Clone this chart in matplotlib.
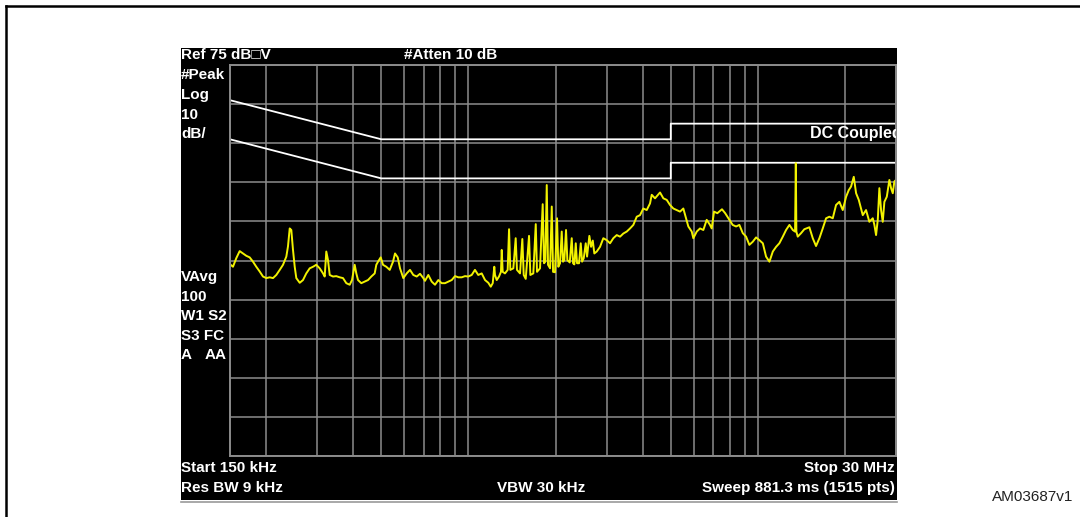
import matplotlib
matplotlib.use('Agg')
import matplotlib.pyplot as plt
from matplotlib.patches import Rectangle
from matplotlib.lines import Line2D
from matplotlib.ticker import FixedLocator, NullLocator

# measured trace, frequency in MHz / level in dBuV
freq_mhz = [
    0.1508, 0.1536, 0.1577, 0.1620, 0.1664, 0.1708, 0.1754, 0.1801, 0.1849, 0.1899,
    0.1950, 0.2002, 0.2057, 0.2112, 0.2168, 0.2228, 0.2287, 0.2348, 0.2379, 0.2412,
    0.2443, 0.2476, 0.2510, 0.2542, 0.2612, 0.2681, 0.2752, 0.2828, 0.2903, 0.2980,
    0.3062, 0.3144, 0.3186, 0.3227, 0.3271, 0.3316, 0.3404, 0.3494, 0.3590, 0.3686,
    0.3784, 0.3888, 0.3959, 0.4045, 0.4097, 0.4153, 0.4263, 0.4380, 0.4497, 0.4617,
    0.4743, 0.4804, 0.4870, 0.4975, 0.5067, 0.5202, 0.5345, 0.5487, 0.5575, 0.5696,
    0.5801, 0.5955, 0.6118, 0.6281, 0.6448, 0.6625, 0.6802, 0.6982, 0.7077, 0.7265,
    0.7465, 0.7663, 0.7867, 0.8083, 0.8298, 0.8518, 0.8752, 0.8985, 0.9224, 0.9477,
    0.9729, 0.9987, 1.026, 1.053, 1.081, 1.111, 1.141, 1.171, 1.194, 1.213,
    1.228, 1.235, 1.252, 1.275, 1.295, 1.303, 1.313, 1.337, 1.366, 1.381,
    1.395, 1.429, 1.456, 1.471, 1.507, 1.535, 1.552, 1.577, 1.619, 1.636,
    1.675, 1.708, 1.725, 1.767, 1.805, 1.824, 1.843, 1.864, 1.883, 1.914,
    1.940, 1.960, 1.991, 2.023, 2.044, 2.072, 2.100, 2.122, 2.144, 2.173,
    2.196, 2.238, 2.274, 2.298, 2.322, 2.348, 2.372, 2.410, 2.443, 2.469,
    2.502, 2.542, 2.569, 2.616, 2.652, 2.688, 2.722, 2.775, 2.848, 2.924,
    3.004, 3.084, 3.166, 3.253, 3.340, 3.428, 3.522, 3.616, 3.712, 3.814,
    3.915, 4.019, 4.129, 4.239, 4.297, 4.411, 4.590, 4.713, 4.842, 4.970,
    5.103, 5.243, 5.382, 5.525, 5.645, 5.749, 5.907, 5.983, 6.147, 6.310,
    6.478, 6.655, 6.832, 6.925, 7.053, 7.241, 7.514, 7.708, 7.976, 8.180,
    8.406, 8.630, 8.866, 9.102, 9.344, 9.600, 9.856, 10.12, 10.40, 10.67,
    10.96, 11.26, 11.56, 11.86, 12.19, 12.51, 12.85, 13.20, 13.44, 13.52,
    13.58, 13.73, 14.10, 14.47, 15.06, 15.47, 15.88, 16.31, 16.75, 17.20,
    17.66, 18.14, 18.62, 19.12, 19.64, 20.17, 20.60, 20.98, 21.44, 21.84,
    22.31, 22.72, 23.03, 23.64, 24.27, 24.94, 25.26, 25.60, 25.95, 26.28,
    26.64, 27.00, 27.35, 27.88, 28.46, 28.85, 29.24, 29.61, 30.00,
]
level_dbuv = [
    23.9, 23.4, 25.6, 27.4, 26.8, 26.2, 25.8, 24.7, 23.4, 22.2,
    20.9, 20.5, 20.7, 20.5, 21.3, 22.6, 23.9, 26.0, 28.6, 33.2,
    32.8, 27.7, 23.4, 20.5, 19.3, 20.0, 21.7, 23.0, 23.4, 23.9,
    23.0, 21.7, 20.9, 27.3, 25.1, 21.3, 20.9, 21.0, 20.7, 20.5,
    19.2, 18.8, 20.0, 23.9, 21.7, 20.0, 19.2, 19.6, 20.0, 20.9,
    21.7, 23.9, 24.7, 25.8, 23.9, 23.4, 22.6, 24.7, 26.8, 25.8,
    23.0, 20.5, 21.7, 22.6, 21.3, 20.9, 21.6, 20.5, 19.8, 21.3,
    19.6, 18.8, 20.0, 19.2, 19.2, 19.6, 20.0, 21.0, 20.7, 20.7,
    21.0, 20.9, 21.3, 22.6, 21.3, 21.7, 20.0, 19.3, 18.3, 19.2,
    23.4, 21.3, 20.0, 20.9, 22.1, 27.7, 22.1, 21.7, 22.6, 33.0,
    22.6, 23.0, 30.7, 22.6, 21.7, 30.5, 21.3, 20.3, 31.3, 21.3,
    21.7, 34.3, 22.1, 23.0, 39.4, 24.3, 24.7, 44.3, 23.9, 23.0,
    38.8, 22.1, 22.0, 35.8, 23.4, 24.3, 32.4, 24.7, 25.1, 32.8,
    25.1, 24.5, 30.7, 24.3, 24.0, 29.4, 24.3, 24.3, 29.4, 24.7,
    25.6, 29.4, 26.0, 31.3, 28.5, 30.1, 26.8, 27.3, 28.5, 30.7,
    30.2, 29.4, 30.7, 31.5, 31.1, 31.9, 32.4, 33.2, 34.1, 36.2,
    36.6, 38.3, 37.9, 39.6, 41.8, 40.9, 42.4, 40.9, 40.5, 39.2,
    38.3, 37.9, 37.5, 38.3, 35.8, 33.7, 32.4, 30.7, 32.4, 33.2,
    32.8, 35.4, 34.1, 33.2, 37.5, 37.1, 38.1, 37.1, 35.4, 34.1,
    33.7, 34.1, 32.0, 31.1, 29.0, 29.8, 30.9, 30.2, 29.4, 26.0,
    24.7, 27.3, 28.5, 29.4, 31.1, 32.8, 34.1, 32.8, 32.4, 49.9,
    32.4, 31.1, 32.0, 33.0, 33.5, 30.7, 28.7, 30.7, 33.2, 35.8,
    36.2, 35.8, 39.2, 40.0, 37.9, 41.3, 43.0, 43.9, 46.4, 42.2,
    40.5, 38.3, 36.6, 37.9, 34.9, 35.8, 34.1, 31.5, 35.4, 43.5,
    37.9, 34.9, 40.0, 41.3, 45.6, 43.5, 42.2, 45.2, 45.6,
]

# EN55022 class B limit lines
limit_freq = [0.15, 0.5, 5, 5, 30]
qp_limit = [66, 56, 56, 60, 60]
avg_limit = [56, 46, 46, 50, 50]

grid_freqs = [0.2, 0.3, 0.4, 0.5, 0.6, 0.7, 0.8, 0.9, 1, 2, 3, 4, 5, 6, 7, 8, 9, 10, 20]

W, H = 1080, 517
def fx(px):
    return px / W
def fy(py):
    return 1 - py / H

fam = ['Liberation Sans', 'DejaVu Sans']
fig = plt.figure(figsize=(W / 100, H / 100), dpi=100)
fig.patch.set_facecolor('white')

# frame of the figure page
fig.add_artist(Line2D([fx(6), fx(6)], [fy(6), fy(530)], color='black', lw=1.8))
fig.add_artist(Line2D([fx(6), 1.0], [fy(6), fy(6)], color='black', lw=1.8))

# analyzer screen
fig.add_artist(Rectangle((fx(181), fy(500)), fx(897) - fx(181), (500 - 48) / H,
                         transform=fig.transFigure, facecolor='black', edgecolor='none', zorder=0))
fig.add_artist(Line2D([fx(181), fx(897)], [fy(501.5), fy(501.5)], color='#9a9a9a', lw=1.2))

ax = fig.add_axes([fx(230), fy(456), fx(896) - fx(230), (456 - 65) / H])
ax.set_facecolor('black')
ax.set_xscale('log')
ax.set_xlim(0.15, 30)
ax.set_ylim(-25, 75)
ax.xaxis.set_major_locator(FixedLocator(grid_freqs))
ax.xaxis.set_minor_locator(NullLocator())
ax.set_yticks(range(-25, 76, 10))
ax.grid(True, color='#8c8c8c', lw=1.1)
ax.tick_params(length=0, labelbottom=False, labelleft=False)
for s in ax.spines.values():
    s.set_color('#8c8c8c')
    s.set_linewidth(1.4)

ax.plot(limit_freq, qp_limit, color='white', lw=1.3)
ax.plot(limit_freq, avg_limit, color='white', lw=1.3)
ax.plot(freq_mhz, level_dbuv, color='#f2f200', lw=1.4)

ax.text(fx(810), fy(133), 'DC Coupled', transform=fig.transFigure, color='white',
        fontsize=11.5, fontweight='bold', family=fam, va='center', clip_on=True)

def label(px, py, s, ha='left'):
    fig.text(fx(px), fy(py), s, color='white', fontsize=11, fontweight='bold',
             family=fam, ha=ha, va='center')

label(181, 55, 'Ref 75 dB\u25a1V')
label(404, 55, '#Atten 10 dB')
label(181, 75, '#Peak')
label(181, 95, 'Log')
label(181, 115, '10')
label(181, 134, 'dB/')
label(181, 277, 'VAvg')
label(181, 297, '100')
label(181, 316, 'W1 S2')
label(181, 336, 'S3 FC')
label(181, 355, 'A')
label(205, 355, 'AA')
label(181, 468, 'Start 150 kHz')
label(895, 468, 'Stop 30 MHz', ha='right')
label(181, 488, 'Res BW 9 kHz')
label(497, 488, 'VBW 30 kHz')
label(895, 488, 'Sweep 881.3 ms (1515 pts)', ha='right')

fig.text(fx(1073), fy(497), 'AM03687v1', color='#222222', fontsize=11,
         family=fam, ha='right', va='center')

fig.savefig('out.png', dpi=100)
